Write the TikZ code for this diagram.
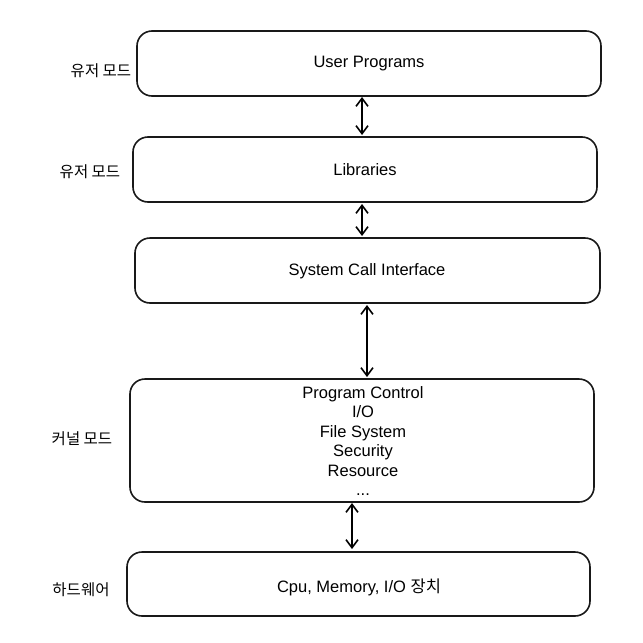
\documentclass[tikz,border=0pt]{standalone}
\usepackage{fontspec}
\setmainfont{Liberation Sans}
\newfontfamily\krfont{Noto Sans CJK KR}
\usetikzlibrary{arrows.meta}
\tikzset{
  layer/.style={draw=black!90, line width=1.6pt, rounded corners=15pt, inner sep=0pt},
  lbl/.style={font=\fontsize{16.5}{19}\selectfont, inner sep=0pt},
  side/.style={font=\krfont\fontsize{15.5}{18}\selectfont, inner sep=0pt},
  link/.style={line width=1.6pt, {Straight Barb[length=8pt,width=12pt]}-{Straight Barb[length=8pt,width=12pt]}}
}
\begin{document}
\begin{tikzpicture}[x=1pt,y=-1pt]
\useasboundingbox (0,0) rectangle (643,643);
% boxes
\draw[layer] (137,31) rectangle (601,96);
\node[lbl] (b1) at (369,64) {User Programs};
\draw[layer] (133,137) rectangle (597,202);
\node[lbl] (b2) at (365,170) {Libraries};
\draw[layer] (135,238) rectangle (600,303);
\node[lbl] (b3) at (367,271) {System Call Interface};
\draw[layer] (130,379) rectangle (594,502);
\node[lbl, align=center, font=\fontsize{16.5}{19.4}\selectfont] (b4) at (363,441) {Program Control\\I/O\\File System\\Security\\Resource\\...};
\draw[layer] (127,552) rectangle (590,616);
\node[lbl] (b5) at (359,587) {Cpu, Memory, I/O {\krfont 장치}};
% anchor points for connectors
\coordinate (a1) at (362,97);  \coordinate (a2) at (362,135);
\coordinate (c1) at (362,204); \coordinate (c2) at (362,236);
\coordinate (d1) at (367,305); \coordinate (d2) at (367,377);
\coordinate (e1) at (352,503); \coordinate (e2) at (352,549);
\draw[link] (a1) -- (a2);
\draw[link] (c1) -- (c2);
\draw[link] (d1) -- (d2);
\draw[link] (e1) -- (e2);
% side labels
\node[side] (s1) at (101,71) {유저 모드};
\node[side] (s2) at (90,172) {유저 모드};
\node[side] (s3) at (82,439) {커널 모드};
\node[side] (s4) at (81,590) {하드웨어};
\end{tikzpicture}
\end{document}
